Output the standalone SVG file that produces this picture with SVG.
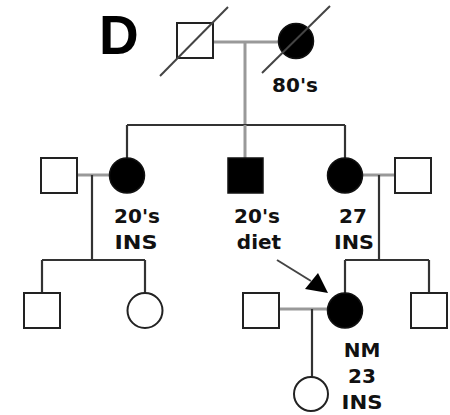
<svg xmlns="http://www.w3.org/2000/svg" width="450" height="415" viewBox="0 0 450 415">
  <style>
    .m { fill: #fff; stroke: #222; stroke-width: 2; }
    .a { fill: #000; stroke: #111; stroke-width: 1.5; }
    .ln { stroke: #333; stroke-width: 2.2; fill: none; }
    .gl { stroke: #999; stroke-width: 3; fill: none; }
    .dl { stroke: #444; stroke-width: 2; fill: none; }
    .lbl { font-family: "DejaVu Sans", Verdana, sans-serif; font-weight: bold; font-size: 20px; fill: #111; text-anchor: middle; }
    .title { font-family: "Liberation Sans", Arial, sans-serif; font-weight: bold; font-size: 55px; fill: #000; }
  </style>

  <text class="title" x="99" y="54">D</text>

  <!-- connectors: couple lines, lines of descent, sibships, proband arrow -->
  <g id="connectors">
    <line class="gl" x1="213" y1="42" x2="278" y2="42"/>
    <line class="gl" x1="245" y1="42" x2="245" y2="125" stroke="#888"/>
    <line class="ln" x1="127" y1="125" x2="345" y2="125"/>
    <line class="ln" x1="127" y1="125" x2="127" y2="158"/>
    <line class="gl" x1="245" y1="125" x2="245" y2="158"/>
    <line class="ln" x1="345" y1="125" x2="345" y2="158"/>

    <line class="gl" x1="77" y1="175" x2="109" y2="175"/>
    <line class="ln" x1="92" y1="175" x2="92" y2="260"/>
    <line class="ln" x1="42" y1="260" x2="145" y2="260"/>
    <line class="ln" x1="42" y1="260" x2="42" y2="293"/>
    <line class="ln" x1="145" y1="260" x2="145" y2="293"/>

    <line class="gl" x1="363" y1="175" x2="395" y2="175"/>
    <line class="ln" x1="379" y1="175" x2="379" y2="260"/>
    <line class="ln" x1="345" y1="260" x2="429" y2="260"/>
    <line class="ln" x1="345" y1="260" x2="345" y2="293"/>
    <line class="ln" x1="429" y1="260" x2="429" y2="293"/>

    <line class="gl" x1="279" y1="309" x2="327" y2="309"/>
    <line class="ln" x1="312" y1="309" x2="312" y2="377"/>

    <line class="dl" x1="277" y1="260" x2="311" y2="281"/>
    <polygon points="328,293 305,289 318,273" fill="#000"/>
  </g>

  <!-- generation I -->
  <g id="grandfather">
    <rect class="m" x="177" y="23" width="36" height="35"/>
    <line class="dl" x1="160" y1="76" x2="228" y2="7"/>
  </g>
  <g id="grandmother">
    <circle class="a" cx="296" cy="41" r="17.5"/>
    <line class="dl" x1="262" y1="73" x2="330" y2="6"/>
    <text class="lbl" x="295" y="92">80's</text>
  </g>

  <!-- generation II -->
  <g id="husband-left">
    <rect class="m" x="41" y="158" width="36" height="35"/>
  </g>
  <g id="daughter-left">
    <circle class="a" cx="127" cy="175.5" r="17.5"/>
    <text class="lbl" x="137" y="223">20's</text>
    <text class="lbl" x="136" y="249" textLength="43" lengthAdjust="spacingAndGlyphs">INS</text>
  </g>
  <g id="son">
    <rect class="a" x="228" y="158" width="35" height="35"/>
    <text class="lbl" x="257" y="223">20's</text>
    <text class="lbl" x="259" y="249">diet</text>
  </g>
  <g id="daughter-right">
    <circle class="a" cx="345" cy="175.5" r="17.5"/>
    <text class="lbl" x="353" y="223">27</text>
    <text class="lbl" x="354" y="249" textLength="40" lengthAdjust="spacingAndGlyphs">INS</text>
  </g>
  <g id="husband-right">
    <rect class="m" x="395" y="158" width="36" height="35"/>
  </g>

  <!-- generation III -->
  <g id="grandson-left">
    <rect class="m" x="24" y="293" width="36" height="35"/>
  </g>
  <g id="granddaughter-left">
    <circle class="m" cx="145" cy="310.5" r="17.5"/>
  </g>
  <g id="spouse">
    <rect class="m" x="243" y="293" width="36" height="35"/>
  </g>
  <g id="proband">
    <circle class="a" cx="345" cy="310.5" r="17.5"/>
    <text class="lbl" x="362" y="357">NM</text>
    <text class="lbl" x="362" y="383">23</text>
    <text class="lbl" x="362" y="409" textLength="41" lengthAdjust="spacingAndGlyphs">INS</text>
  </g>
  <g id="grandson-right">
    <rect class="m" x="411" y="293" width="36" height="35"/>
  </g>

  <!-- generation IV -->
  <g id="great-granddaughter">
    <circle class="m" cx="311" cy="394" r="17"/>
  </g>
</svg>
